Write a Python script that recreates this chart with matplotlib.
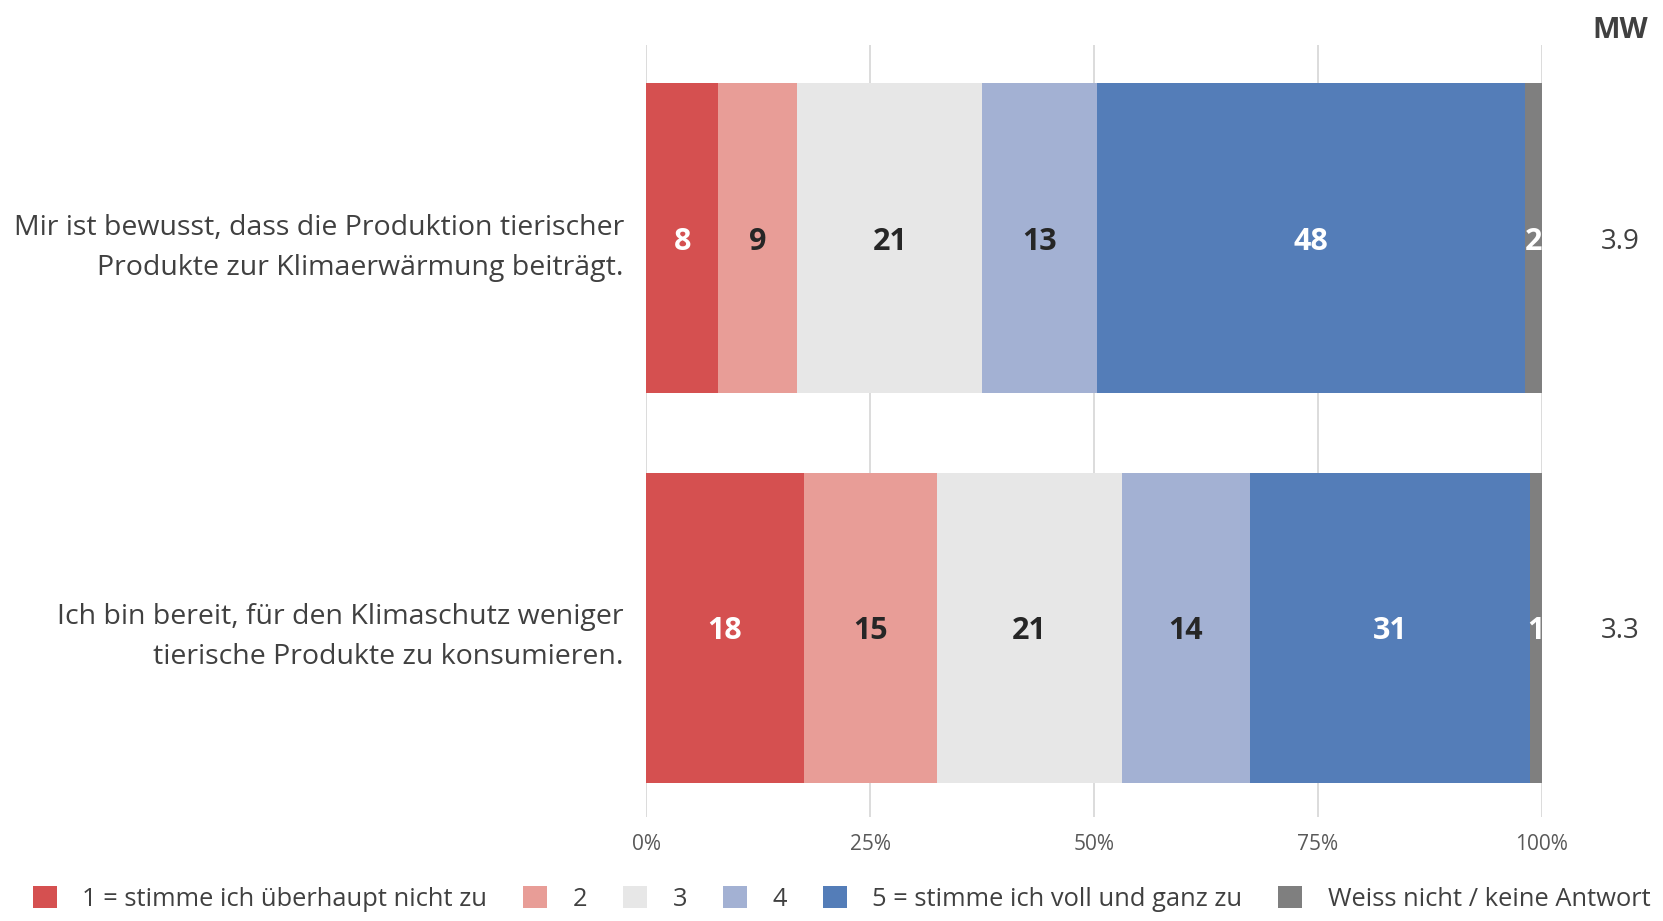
import matplotlib.pyplot as plt
from matplotlib.patches import Patch
import numpy as np

plt.rcParams['font.family'] = ['Open Sans', 'DejaVu Sans']

# Fragen (Kategorien)
questions = ["Mir ist bewusst, dass die Produktion tierischer\nProdukte zur Klimaerwärmung beiträgt.",
             "Ich bin bereit, für den Klimaschutz weniger\ntierische Produkte zu konsumieren."]

# Anteile in % je Antwortkategorie (1..5, weiss nicht)
resp_1 = [8.05, 17.6]
resp_2 = [8.85, 14.9]
resp_3 = [20.6, 20.6]
resp_4 = [12.8, 14.3]
resp_5 = [47.8, 31.3]
resp_na = [1.9, 1.3]

# angezeigte (gerundete) Werte
labels_1 = [8, 18]
labels_2 = [9, 15]
labels_3 = [21, 21]
labels_4 = [13, 14]
labels_5 = [48, 31]
labels_na = [2, 1]

mw = ["3.9", "3.3"]

legend_names = ["1 = stimme ich überhaupt nicht zu", "2", "3", "4",
                "5 = stimme ich voll und ganz zu", "Weiss nicht / keine Antwort"]
colors = ["#D55050", "#E89D97", "#E7E7E7", "#A3B1D3", "#547DB8", "#7F7F7F"]
text_colors = ["white", "#262626", "#262626", "#262626", "white", "white"]

series = [resp_1, resp_2, resp_3, resp_4, resp_5, resp_na]
series_labels = [labels_1, labels_2, labels_3, labels_4, labels_5, labels_na]

fig = plt.figure(figsize=(16.63, 9.21), dpi=100)
ax = fig.add_axes([0.3885, 0.1129, 0.5387, 0.8381])

y = np.arange(len(questions))
left = np.zeros(len(questions))
for vals, labs, c, tc in zip(series, series_labels, colors, text_colors):
    vals = np.array(vals)
    ax.barh(y, vals, left=left, height=0.795, color=c, zorder=2)
    for yi, v, l, lab in zip(y, vals, left, labs):
        ax.text(l + v / 2, yi, str(lab), ha='center', va='center_baseline', fontsize=22,
                fontweight='bold', color=tc, zorder=3)
    left += vals

ax.set_xlim(0, 100)
ax.set_ylim(1.485, -0.495)
ax.set_xticks([0, 25, 50, 75, 100])
ax.set_xticklabels(["0%", "25%", "50%", "75%", "100%"], fontsize=15, color="#595959")
ax.set_yticks(y)
ax.set_yticklabels(questions, fontsize=20.5, color="#404040", linespacing=1.57)
ax.tick_params(axis='both', length=0)
ax.tick_params(axis='x', pad=12)
ax.tick_params(axis='y', pad=16)
ax.grid(axis='x', color="#D9D9D9", linewidth=1.3, zorder=0)
for s in ax.spines.values():
    s.set_visible(False)

# Mittelwerte
fig.text(0.974, 0.967, "MW", ha='center', va='center', fontsize=21, fontweight='bold', color="#404040")
for yi, m in zip(y, mw):
    ax.text(1.087, yi, m, transform=ax.get_yaxis_transform(), ha='center', va='center_baseline',
            fontsize=20, color="#404040")

handles = [Patch(facecolor=c) for c in colors]
fig.legend(handles, legend_names, loc='center', bbox_to_anchor=(0.506, 0.024), ncol=6,
           frameon=False, fontsize=18.4, labelcolor="#404040", handlelength=0.94,
           handleheight=0.94, handletextpad=1.0, columnspacing=1.4)

fig.savefig("out.png", dpi=100, facecolor="white")
